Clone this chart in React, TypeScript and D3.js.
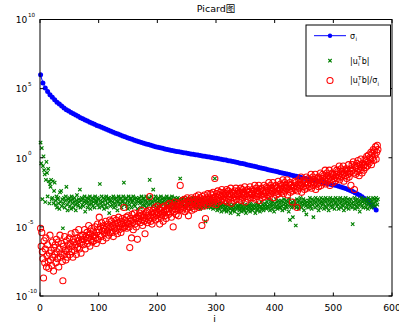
import { useEffect, useRef } from 'react';
import * as d3 from 'd3';

// axis ticks
const xTicks = [0, 100, 200, 300, 400, 500, 600];
const yTickExps = [-10, -5, 0, 5, 10];

// log10 of sigma_i, read every 4th index (i = 1, 5, 9, ...)
const sigmaStep = 4;
const sigmaLog = [
  6.0, 5.4, 5.05, 4.8, 4.55, 4.38, 4.2, 4.02, 3.88, 3.74,
  3.6, 3.48, 3.38, 3.28, 3.18, 3.09, 3.0, 2.9, 2.82, 2.73,
  2.65, 2.57, 2.49, 2.42, 2.34, 2.27, 2.2, 2.13, 2.06, 1.99,
  1.92, 1.85, 1.78, 1.71, 1.64, 1.57, 1.51, 1.45, 1.39, 1.33,
  1.27, 1.21, 1.15, 1.1, 1.05, 1.0, 0.95, 0.9, 0.85, 0.8,
  0.76, 0.72, 0.68, 0.64, 0.6, 0.56, 0.52, 0.49, 0.46, 0.43,
  0.4, 0.37, 0.34, 0.31, 0.28, 0.25, 0.22, 0.19, 0.16, 0.13,
  0.1, 0.07, 0.05, 0.02, -0.01, -0.04, -0.07, -0.1, -0.14, -0.17,
  -0.21, -0.24, -0.28, -0.31, -0.35, -0.39, -0.42, -0.46, -0.5, -0.54,
  -0.58, -0.62, -0.66, -0.7, -0.74, -0.78, -0.82, -0.86, -0.9, -0.94,
  -0.98, -1.02, -1.06, -1.1, -1.14, -1.18, -1.22, -1.26, -1.3, -1.34,
  -1.38, -1.42, -1.46, -1.5, -1.54, -1.58, -1.62, -1.66, -1.7, -1.73,
  -1.77, -1.81, -1.85, -1.89, -1.93, -1.97, -2.01, -2.06, -2.11, -2.17,
  -2.23, -2.3, -2.37, -2.45, -2.53, -2.62, -2.72, -2.83, -2.95, -3.08,
  -3.22, -3.38, -3.56, -3.78,
];

// log10 |u_i^T b|, i = 1..576
const betaLog = [
  1.1, -0.4, 0.7, -3.0, -0.6, 0.1, -0.9, -1.2, -3.2, -1.6, -0.3, -1.1, -2.8, -0.8, -1.7, -3.3, -1.9, -2.1, -1.6, -3.0, -2.9, -1.7, -3.3, -2.4,
  -1.8, -3.1, -3.4, -2.8, -3.6, -3.0, -2.9, -3.3, -3.7, -2.5, -3.2, -2.4, -3.5, -3.0, -5.1, -3.3, -2.9, -3.6, -3.1, -2.8, -2.1, -3.4, -3.8, -3.0,
  -3.2, -2.9, -3.5, -3.1, -3.7, -2.8, -3.3, -3.0, -3.6, -3.2, -2.9, -3.4, -3.8, -3.1, -2.7, -3.3, -3.5, -3.0, -3.2, -2.3, -3.6, -3.1, -2.9, -3.4,
  -3.0, -3.5, -3.2, -2.8, -3.9, -3.1, -3.3, -2.9, -3.6, -3.2, -3.0, -3.4, -2.8, -3.7, -3.1, -3.3, -2.9, -3.5, -3.2, -3.0, -3.6, -2.8, -3.3, -3.1,
  -3.2, -2.9, -3.4, -3.0, -3.6, -1.9, -3.1, -3.3, -2.8, -3.5, -3.2, -2.9, -3.7, -3.0, -3.4, -3.1, -2.8, -3.6, -3.3, -3.0, -2.9, -4.0, -3.2, -3.5,
  -3.1, -2.9, -3.4, -3.2, -2.8, -3.6, -3.0, -3.3, -3.5, -2.9, -3.1, -3.8, -3.2, -2.8, -3.4, -3.0, -3.3, -2.9, -3.6, -3.1, -3.2, -2.8, -1.8, -3.4,
  -3.0, -3.3, -2.9, -3.5, -3.1, -3.7, -2.8, -3.2, -3.4, -3.0, -2.9, -3.6, -3.2, -3.1, -2.8, -3.4, -3.0, -3.5, -3.3, -2.9, -3.1, -3.7, -3.0, -3.2,
  -2.9, -3.3, -3.1, -3.6, -2.8, -3.2, -3.4, -3.0, -2.9, -3.5, -3.1, -3.3, -2.8, -3.6, -3.2, -3.0, -3.4, -2.9, -1.6, -3.1, -3.3, -2.8, -3.5, -3.2,
  -2.3, -3.0, -3.4, -3.1, -2.8, -3.3, -3.6, -3.0, -3.2, -2.9, -3.5, -3.1, -3.3, -2.8, -3.4, -3.0, -3.2, -3.7, -2.9, -3.1, -3.3, -3.0, -3.5, -2.8,
  -3.2, -3.4, -3.0, -2.9, -3.3, -3.1, -3.6, -3.0, -2.8, -3.2, -3.4, -3.1, -3.5, -2.9, -3.3, -3.0, -3.2, -3.6, -2.9, -3.1, -3.4, -3.0, -1.5, -3.2,
  -3.3, -3.0, -3.5, -3.1, -2.9, -3.4, -3.2, -3.6, -3.0, -3.3, -2.9, -3.1, -3.5, -3.2, -3.0, -3.4, -3.7, -3.1, -3.3, -2.9, -3.2, -3.5, -3.0, -3.4,
  -3.2, -3.5, -3.1, -3.3, -3.6, -3.0, -3.4, -3.2, -3.7, -3.1, -3.3, -3.5, -3.0, -3.4, -3.6, -3.2, -3.3, -4.6, -3.1, -3.5, -3.4, -3.2, -3.6, -3.0,
  -3.4, -3.2, -3.6, -3.3, -3.5, -3.1, -3.7, -3.4, -3.3, -1.5, -3.6, -3.2, -3.5, -3.8, -3.3, -3.6, -3.4, -3.7, -3.2, -3.5, -3.9, -3.4, -3.6, -3.3,
  -3.5, -3.8, -3.4, -3.7, -3.6, -3.9, -3.5, -3.3, -3.8, -3.6, -3.4, -3.7, -4.0, -3.5, -3.6, -3.8, -3.4, -3.7, -3.5, -3.9, -3.6, -3.3, -3.7, -3.5,
  -3.6, -4.1, -3.5, -3.8, -3.4, -3.7, -3.6, -3.9, -3.5, -3.3, -3.7, -3.8, -3.4, -3.6, -4.0, -3.5, -3.7, -3.4, -3.8, -3.6, -3.5, -3.9, -3.3, -3.7,
  -3.5, -3.8, -3.6, -3.4, -3.7, -3.5, -4.0, -3.6, -3.3, -3.8, -3.5, -3.7, -3.4, -3.6, -3.9, -3.5, -3.2, -3.7, -3.6, -3.4, -3.8, -3.5, -3.3, -3.6,
  -3.4, -3.7, -3.2, -3.5, -3.0, -3.6, -3.4, -3.8, -3.3, -3.1, -3.5, -3.7, -3.2, -3.4, -3.9, -3.3, -3.6, -3.0, -3.5, -3.2, -3.7, -3.4, -3.1, -3.6,
  -3.3, -3.6, -3.1, -3.5, -3.8, -3.2, -3.4, -3.0, -3.7, -3.3, -3.5, -3.1, -3.6, -3.4, -3.2, -3.9, -3.0, -4.5, -3.5, -3.3, -3.6, -3.2, -4.3, -3.4,
  -3.1, -3.5, -3.3, -4.9, -3.6, -3.0, -3.4, -3.2, -3.7, -3.1, -3.5, -2.9, -3.3, -3.6, -3.2, -3.4, -3.0, -3.8, -3.3, -3.1, -3.5, -4.1, -3.2, -3.4,
  -3.6, -3.1, -3.3, -2.9, -3.5, -3.2, -3.7, -3.0, -3.4, -4.3, -3.1, -3.3, -3.6, -2.9, -3.2, -3.5, -3.0, -3.4, -3.8, -3.1, -3.3, -3.6, -2.9, -3.2,
  -3.4, -3.0, -3.3, -3.7, -3.1, -3.5, -2.9, -3.2, -3.6, -3.0, -3.4, -3.8, -3.1, -3.3, -2.9, -3.5, -3.2, -3.6, -3.0, -3.4, -3.1, -3.7, -3.3, -2.9,
  -3.2, -3.5, -3.0, -3.4, -3.7, -3.1, -3.3, -2.9, -3.6, -3.2, -3.4, -3.0, -3.5, -3.8, -3.1, -3.3, -2.9, -3.6, -3.2, -3.4, -3.0, -3.7, -3.3, -3.1,
  -3.5, -3.0, -3.3, -3.6, -4.8, -3.2, -3.4, -2.9, -3.7, -3.1, -3.5, -3.3, -3.0, -3.6, -3.2, -3.4, -3.9, -3.1, -3.3, -2.9, -3.5, -3.2, -3.6, -3.0,
  -3.3, -3.1, -3.6, -3.0, -3.4, -3.2, -3.7, -2.9, -3.3, -3.5, -3.0, -3.2, -3.6, -3.1, -3.4, -2.9, -3.3, -3.0, -3.5, -3.2, -2.9, -3.1, -3.4, -3.0,
];

// log10 |u_i^T b| / sigma_i, i = 1..576
const ratioLog = [
  -5.1, -6.4, -5.4, -6.8, -7.3, -8.7, -6.0, -7.6, -6.6, -5.8, -7.9, -7.1, -6.3, -7.5, -8.0, -6.9, -5.6, -7.4, -6.7, -7.8, -6.1, -7.2, -8.2, -6.5,
  -7.0, -6.3, -7.6, -5.9, -6.8, -7.3, -6.1, -7.9, -6.6, -5.6, -7.2, -6.9, -6.2, -7.5, -8.9, -6.4, -7.0, -5.7, -6.7, -7.4, -6.0, -6.8, -7.2, -6.3,
  -6.6, -5.8, -7.0, -6.2, -5.5, -6.8, -6.4, -7.2, -5.9, -6.1, -6.7, -5.4, -6.3, -7.0, -5.8, -6.5, -6.0, -5.2, -6.6, -6.2, -5.7, -6.9, -5.9, -6.1,
  -5.6, -6.3, -5.9, -5.2, -6.6, -5.7, -6.0, -5.4, -6.2, -5.8, -4.9, -5.6, -6.4, -5.5, -5.9, -5.1, -6.1, -5.7, -5.3, -6.0, -5.6, -5.0, -5.8, -6.2,
  -5.4, -4.8, -5.9, -5.2, -4.3, -5.6, -5.0, -5.7, -4.7, -5.3, -6.0, -5.1, -4.9, -5.5, -5.2, -4.6, -5.8, -5.0, -5.3, -4.8, -5.6, -5.1, -4.5, -5.4,
  -5.0, -4.6, -5.4, -4.9, -5.7, -4.4, -5.1, -4.8, -5.3, -4.5, -5.0, -5.5, -4.7, -4.3, -5.2, -4.9, -4.6, -5.4, -4.8, -4.4, -5.1, -4.7, -3.6, -5.0,
  -4.5, -4.9, -4.3, -5.1, -4.7, -4.2, -4.8, -5.0, -6.5, -4.4, -4.6, -5.8, -4.1, -4.7, -5.2, -4.5, -4.0, -4.8, -4.4, -5.0, -4.3, -5.9, -4.6, -4.2,
  -4.4, -4.0, -4.7, -4.2, -3.8, -4.5, -4.9, -4.1, -4.3, -4.6, -5.5, -4.0, -4.4, -3.9, -4.7, -4.2, -4.5, -3.8, -2.8, -4.3, -4.6, -4.0, -4.8, -4.1,
  -3.8, -4.3, -4.0, -3.6, -4.5, -3.9, -4.2, -3.5, -4.4, -4.0, -3.7, -4.8, -4.1, -3.8, -4.3, -3.6, -4.0, -4.6, -3.9, -3.5, -4.2, -3.8, -4.4, -3.7,
  -3.9, -3.4, -4.1, -3.7, -3.3, -4.0, -3.6, -4.3, -3.5, -3.8, -5.0, -3.4, -3.9, -3.2, -3.7, -4.1, -3.5, -3.8, -3.3, -4.2, -3.6, -3.4, -2.0, -3.7,
  -3.5, -3.1, -3.8, -3.3, -3.6, -3.0, -3.9, -3.4, -3.2, -3.7, -2.9, -3.5, -4.2, -3.3, -3.1, -3.6, -3.4, -2.9, -3.8, -3.2, -3.5, -3.0, -3.7, -3.3,
  -3.2, -2.8, -3.5, -3.0, -3.3, -2.7, -3.6, -3.1, -2.9, -3.4, -3.2, -4.9, -2.8, -3.0, -3.5, -2.7, -3.3, -4.4, -3.1, -2.9, -3.4, -2.6, -3.2, -3.0,
  -2.9, -3.2, -2.6, -3.0, -2.7, -3.3, -2.5, -2.9, -3.1, -1.5, -2.8, -3.4, -2.6, -3.0, -2.4, -2.9, -3.2, -2.7, -2.5, -3.1, -2.8, -2.3, -3.0, -2.7,
  -2.8, -2.5, -3.1, -2.6, -2.9, -2.3, -3.2, -2.7, -2.4, -3.0, -2.6, -2.8, -2.2, -3.3, -2.7, -2.5, -2.9, -2.6, -3.1, -2.4, -2.8, -2.2, -3.0, -2.6,
  -2.7, -2.4, -3.0, -2.5, -2.8, -2.2, -3.1, -2.6, -2.3, -2.9, -2.5, -2.7, -2.1, -3.2, -2.6, -2.4, -2.8, -2.3, -3.0, -2.5, -2.7, -2.1, -2.9, -2.6,
  -2.6, -2.3, -2.9, -2.4, -2.7, -2.0, -3.0, -2.5, -2.2, -2.8, -2.4, -2.6, -2.0, -3.1, -2.5, -2.3, -2.7, -2.2, -2.9, -2.4, -2.6, -2.0, -2.8, -2.5,
  -2.4, -2.1, -2.7, -2.2, -2.5, -1.8, -2.8, -2.3, -2.0, -2.6, -2.2, -2.4, -1.8, -2.9, -2.3, -2.1, -2.5, -2.0, -2.7, -2.2, -2.4, -1.7, -2.6, -2.3,
  -2.2, -1.9, -2.5, -2.0, -2.3, -1.6, -2.6, -2.1, -1.8, -2.4, -2.0, -2.2, -1.6, -2.7, -2.1, -1.9, -2.3, -1.8, -2.5, -2.0, -2.2, -3.2, -2.4, -2.1,
  -2.0, -1.7, -2.3, -1.8, -2.1, -3.6, -2.4, -1.9, -1.6, -2.2, -1.8, -2.0, -1.4, -2.5, -1.9, -1.7, -2.1, -1.6, -2.3, -1.8, -2.0, -1.4, -2.2, -1.9,
  -1.8, -1.5, -2.1, -1.6, -1.9, -1.2, -2.2, -1.7, -1.4, -2.0, -1.6, -1.8, -1.2, -2.3, -1.7, -1.5, -1.9, -1.4, -2.1, -1.6, -1.8, -1.1, -2.0, -1.7,
  -1.5, -1.2, -1.8, -1.3, -1.6, -0.9, -1.9, -1.4, -1.1, -1.7, -1.3, -1.5, -0.9, -2.0, -1.4, -1.2, -1.6, -1.1, -1.8, -1.3, -1.5, -0.8, -1.7, -1.4,
  -1.2, -0.9, -1.5, -1.0, -1.3, -0.6, -1.6, -1.1, -0.8, -1.4, -1.0, -1.2, -0.6, -1.7, -1.1, -0.9, -1.3, -0.8, -1.5, -1.0, -1.2, -0.5, -1.4, -1.1,
  -0.8, -2.0, -1.0, -0.5, -0.9, -0.3, -1.1, -2.3, -0.6, -1.2, -0.7, -0.4, -1.0, -0.2, -0.8, -1.3, -0.5, -0.9, -0.1, -0.7, -1.1, -0.4, -0.6, -0.9,
  -0.5, -0.1, -0.7, -0.2, 0.1, -0.6, -0.3, 0.2, -0.4, 0.0, -0.1, 0.4, -0.5, 0.3, 0.0, 0.6, -0.2, 0.5, 0.2, 0.8, -0.1, 0.4, 0.9, 0.6,
];

const FONT = '"DejaVu Sans", "Noto Sans CJK SC", sans-serif';

const App = () => {
  const svgRef = useRef<SVGSVGElement>(null);

  useEffect(() => {
    const svg = d3.select(svgRef.current);
    svg.selectAll('*').remove();

    const left = 40, right = 392, top = 19.5, bottom = 296;
    const x = d3.scaleLinear().domain([0, 600]).range([left, right]);
    const y = d3.scaleLog().domain([1e-10, 1e10]).range([bottom, top]);

    svg.append('rect').attr('width', 399).attr('height', 324).attr('fill', '#fff');

    const sigma = sigmaLog.map((v, k) => ({ i: 1 + k * sigmaStep, v: Math.pow(10, v) }));
    const beta = betaLog.map((v, k) => ({ i: k + 1, v: Math.pow(10, v) }));
    const ratio = ratioLog.map((v, k) => ({ i: k + 1, v: Math.pow(10, v) }));

    // sigma: line with dots
    const line = d3.line<{ i: number; v: number }>().x(d => x(d.i)).y(d => y(d.v));
    svg.append('path')
      .datum(sigma)
      .attr('d', line)
      .attr('fill', 'none')
      .attr('stroke', '#0000ff')
      .attr('stroke-width', 1);
    svg.append('g')
      .selectAll('circle')
      .data(sigma)
      .enter().append('circle')
      .attr('cx', d => x(d.i))
      .attr('cy', d => y(d.v))
      .attr('r', 2.5)
      .attr('fill', '#0000ff');

    // |u_i^T b| : green crosses
    const cross = 'M-1.7,-1.7L1.7,1.7M-1.7,1.7L1.7,-1.7';
    svg.append('g')
      .selectAll('path')
      .data(beta)
      .enter().append('path')
      .attr('transform', d => `translate(${x(d.i)},${y(d.v)})`)
      .attr('d', cross)
      .attr('fill', 'none')
      .attr('stroke', '#008000')
      .attr('stroke-width', 1.15);

    // ratio: red circles
    svg.append('g')
      .selectAll('circle')
      .data(ratio)
      .enter().append('circle')
      .attr('cx', d => x(d.i))
      .attr('cy', d => y(d.v))
      .attr('r', 3.05)
      .attr('fill', 'none')
      .attr('stroke', '#ff0000')
      .attr('stroke-width', 1.05);

    // box + inward ticks
    const tl = 3.5;
    const ax = svg.append('g').attr('stroke', '#000').attr('stroke-width', 1);
    ax.append('rect')
      .attr('x', left).attr('y', top)
      .attr('width', right - left).attr('height', bottom - top)
      .attr('fill', 'none');
    xTicks.forEach(t => {
      ax.append('line').attr('x1', x(t)).attr('x2', x(t)).attr('y1', bottom).attr('y2', bottom - tl);
      ax.append('line').attr('x1', x(t)).attr('x2', x(t)).attr('y1', top).attr('y2', top + tl);
    });
    yTickExps.forEach(e => {
      const yy = y(Math.pow(10, e));
      ax.append('line').attr('x1', left).attr('x2', left + tl).attr('y1', yy).attr('y2', yy);
      ax.append('line').attr('x1', right).attr('x2', right - tl).attr('y1', yy).attr('y2', yy);
    });

    const txt = svg.append('g').attr('font-family', FONT).attr('fill', '#000');

    xTicks.forEach(t => {
      txt.append('text')
        .attr('x', x(t)).attr('y', bottom + 14.7)
        .attr('text-anchor', 'middle')
        .attr('font-size', 9.3)
        .text(t);
    });
    yTickExps.forEach(e => {
      const yy = y(Math.pow(10, e));
      txt.append('text')
        .attr('x', 27.3).attr('y', yy + 3.8)
        .attr('text-anchor', 'end')
        .attr('font-size', 9)
        .text('10');
      txt.append('text')
        .attr('x', 28).attr('y', yy - 2.8)
        .attr('font-size', 5.6)
        .text(e);
    });

    txt.append('text')
      .attr('x', (left + right) / 2).attr('y', 11.5)
      .attr('text-anchor', 'middle')
      .attr('font-size', 9.5)
      .text('Picard图');
    txt.append('text')
      .attr('x', 214.5).attr('y', 322)
      .attr('text-anchor', 'middle')
      .attr('font-size', 9.3)
      .text('i');

    // legend
    const lg = svg.append('g');
    lg.append('rect')
      .attr('x', 306).attr('y', 25)
      .attr('width', 84.5).attr('height', 71)
      .attr('fill', '#fff')
      .attr('stroke', '#000')
      .attr('stroke-width', 1);
    const rowY = [35.7, 60.7, 80.5];
    const mx = 330;
    lg.append('line')
      .attr('x1', 314).attr('x2', 346)
      .attr('y1', rowY[0]).attr('y2', rowY[0])
      .attr('stroke', '#0000ff').attr('stroke-width', 1);
    lg.append('circle').attr('cx', mx).attr('cy', rowY[0]).attr('r', 2.2).attr('fill', '#0000ff');
    lg.append('path')
      .attr('transform', `translate(${mx},${rowY[1]})`)
      .attr('d', cross).attr('fill', 'none')
      .attr('stroke', '#008000').attr('stroke-width', 1.15);
    lg.append('circle')
      .attr('cx', mx).attr('cy', rowY[2]).attr('r', 3.05)
      .attr('fill', 'none').attr('stroke', '#ff0000').attr('stroke-width', 1.05);

    type Part = { n?: string; sup?: string; sub?: string };
    const rich = (x0: number, base: number, parts: Part[]) => {
      let cx = x0;
      parts.forEach(p => {
        if (p.n) {
          const t = lg.append('text').attr('x', cx).attr('y', base)
            .attr('font-family', FONT).attr('font-size', 8).text(p.n);
          cx += (t.node() as SVGTextElement).getComputedTextLength();
        } else {
          let w = 0;
          if (p.sup) {
            const t = lg.append('text').attr('x', cx + 0.3).attr('y', base - 3.8)
              .attr('font-family', FONT).attr('font-size', 5.5).text(p.sup);
            w = Math.max(w, (t.node() as SVGTextElement).getComputedTextLength());
          }
          if (p.sub) {
            const t = lg.append('text').attr('x', cx + 0.3).attr('y', base + 2.6)
              .attr('font-family', FONT).attr('font-size', 5.5).text(p.sub);
            w = Math.max(w, (t.node() as SVGTextElement).getComputedTextLength());
          }
          cx += w + 0.6;
        }
      });
    };
    rich(350, rowY[0] + 2.8, [{ n: 'σ' }, { sub: 'i' }]);
    rich(350, rowY[1] + 2.8, [{ n: '|u' }, { sup: 'T', sub: 'i' }, { n: 'b|' }]);
    rich(350, rowY[2] + 2.8, [{ n: '|u' }, { sup: 'T', sub: 'i' }, { n: 'b|/σ' }, { sub: 'i' }]);
  }, []);

  return (
    <svg
      ref={svgRef}
      width={399}
      height={324}
      style={{ position: 'absolute', left: 0, top: 0, display: 'block' }}
    />
  );
};

export default App;
